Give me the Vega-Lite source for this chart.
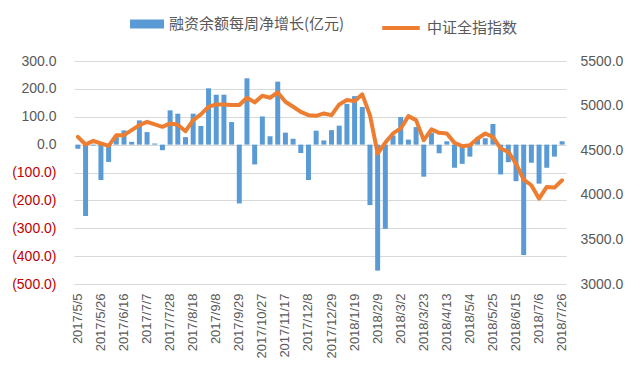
{
  "$schema": "https://vega.github.io/schema/vega-lite/v6.json",
  "autosize": "none",
  "width": 492,
  "height": 223,
  "padding": {"left": 74, "top": 61, "right": 74, "bottom": 101},
  "background": "white",
  "config": {"view": {"stroke": null}, "font": "Liberation Sans"},
  "data": {"values": [
    {"date": "2017/5/5", "flow": -15, "index": 4650},
    {"date": "2017/5/12", "flow": -256, "index": 4564},
    {"date": "2017/5/19", "flow": -3, "index": 4605},
    {"date": "2017/5/26", "flow": -127, "index": 4575},
    {"date": "2017/6/2", "flow": -62, "index": 4548},
    {"date": "2017/6/9", "flow": 27, "index": 4669},
    {"date": "2017/6/16", "flow": 51, "index": 4669},
    {"date": "2017/6/23", "flow": 10, "index": 4725},
    {"date": "2017/6/30", "flow": 87, "index": 4781},
    {"date": "2017/7/7", "flow": 45, "index": 4818},
    {"date": "2017/7/14", "flow": 4, "index": 4789},
    {"date": "2017/7/21", "flow": -20, "index": 4762},
    {"date": "2017/7/28", "flow": 123, "index": 4800},
    {"date": "2017/8/4", "flow": 111, "index": 4785},
    {"date": "2017/8/11", "flow": 27, "index": 4713},
    {"date": "2017/8/18", "flow": 111, "index": 4837},
    {"date": "2017/8/25", "flow": 67, "index": 4901},
    {"date": "2017/9/1", "flow": 202, "index": 4987},
    {"date": "2017/9/8", "flow": 179, "index": 5013},
    {"date": "2017/9/15", "flow": 179, "index": 5013},
    {"date": "2017/9/22", "flow": 81, "index": 5006},
    {"date": "2017/9/29", "flow": -211, "index": 5006},
    {"date": "2017/10/13", "flow": 238, "index": 5088},
    {"date": "2017/10/20", "flow": -71, "index": 5036},
    {"date": "2017/10/27", "flow": 101, "index": 5110},
    {"date": "2017/11/3", "flow": 30, "index": 5088},
    {"date": "2017/11/10", "flow": 226, "index": 5148},
    {"date": "2017/11/17", "flow": 43, "index": 5043},
    {"date": "2017/11/24", "flow": 21, "index": 4987},
    {"date": "2017/12/1", "flow": -30, "index": 4930},
    {"date": "2017/12/8", "flow": -127, "index": 4893},
    {"date": "2017/12/15", "flow": 50, "index": 4885},
    {"date": "2017/12/22", "flow": 15, "index": 4912},
    {"date": "2017/12/29", "flow": 52, "index": 4893},
    {"date": "2018/1/5", "flow": 68, "index": 5013},
    {"date": "2018/1/12", "flow": 146, "index": 5062},
    {"date": "2018/1/19", "flow": 174, "index": 5050},
    {"date": "2018/1/26", "flow": 135, "index": 5126},
    {"date": "2018/2/2", "flow": -217, "index": 4893},
    {"date": "2018/2/9", "flow": -452, "index": 4463},
    {"date": "2018/2/14", "flow": -302, "index": 4586},
    {"date": "2018/2/23", "flow": 33, "index": 4688},
    {"date": "2018/3/2", "flow": 99, "index": 4744},
    {"date": "2018/3/9", "flow": 18, "index": 4882},
    {"date": "2018/3/16", "flow": 63, "index": 4837},
    {"date": "2018/3/23", "flow": -115, "index": 4612},
    {"date": "2018/3/30", "flow": 43, "index": 4733},
    {"date": "2018/4/4", "flow": -31, "index": 4695},
    {"date": "2018/4/13", "flow": 12, "index": 4687},
    {"date": "2018/4/20", "flow": -83, "index": 4582},
    {"date": "2018/4/27", "flow": -69, "index": 4545},
    {"date": "2018/5/4", "flow": -43, "index": 4556},
    {"date": "2018/5/11", "flow": 26, "index": 4631},
    {"date": "2018/5/18", "flow": 23, "index": 4687},
    {"date": "2018/5/25", "flow": 74, "index": 4650},
    {"date": "2018/6/1", "flow": -107, "index": 4519},
    {"date": "2018/6/8", "flow": -63, "index": 4481},
    {"date": "2018/6/15", "flow": -131, "index": 4350},
    {"date": "2018/6/22", "flow": -396, "index": 4170},
    {"date": "2018/6/29", "flow": -65, "index": 4107},
    {"date": "2018/7/6", "flow": -140, "index": 3957},
    {"date": "2018/7/13", "flow": -83, "index": 4088},
    {"date": "2018/7/20", "flow": -43, "index": 4081},
    {"date": "2018/7/26", "flow": 12, "index": 4163}
  ]},
  "encoding": {
    "x": {
      "field": "date", "type": "ordinal", "sort": null,
      "scale": {"paddingInner": 0.35, "paddingOuter": 0.18},
      "axis": {
        "title": null, "domain": false, "ticks": false, "grid": false,
        "labelAngle": -90, "labelPadding": 9, "labelFontSize": 13, "labelColor": "#595959",
        "labelFont": "Liberation Sans",
        "values": ["2017/5/5","2017/5/26","2017/6/16","2017/7/7","2017/7/28","2017/8/18","2017/9/8","2017/9/29","2017/10/27","2017/11/17","2017/12/8","2017/12/29","2018/1/19","2018/2/9","2018/3/2","2018/3/23","2018/4/13","2018/5/4","2018/5/25","2018/6/15","2018/7/6","2018/7/26"]
      }
    }
  },
  "layer": [
    {
      "mark": {"type": "bar", "color": "#5B9BD5"},
      "encoding": {
        "y": {
          "field": "flow", "type": "quantitative",
          "scale": {"domain": [-500, 300], "nice": false, "zero": false},
          "axis": {
            "title": null, "domain": false, "ticks": false,
            "values": [-500, -400, -300, -200, -100, 0, 100, 200, 300],
            "gridColor": "#D9D9D9", "gridWidth": 1,
            "labelFontSize": 14, "labelPadding": 18, "labelFont": "Liberation Sans",
            "labelExpr": "datum.value < 0 ? '(' + format(-datum.value, '.1f') + ')' : format(datum.value, '.1f')",
            "labelColor": {"condition": {"test": "datum.value < 0", "value": "#C00000"}, "value": "#595959"}
          }
        },
        "color": {
          "datum": "融资余额每周净增长(亿元)",
          "scale": {"range": ["#5B9BD5"]},
          "legend": {
            "orient": "none", "legendX": 56, "legendY": -54, "title": null, "padding": 0,
            "symbolType": "M-1,-0.26H1V0.26H-1Z", "symbolSize": 1156, "symbolStrokeWidth": 0,
            "labelFont": "Noto Sans CJK SC", "labelFontSize": 15, "labelColor": "#595959", "labelOffset": 5, "labelLimit": 400
          }
        }
      }
    },
    {
      "mark": {"type": "line", "strokeWidth": 4, "strokeJoin": "round", "strokeCap": "round"},
      "encoding": {
        "y": {
          "field": "index", "type": "quantitative",
          "scale": {"domain": [3000, 5500], "nice": false, "zero": false},
          "axis": {
            "title": null, "domain": false, "ticks": false, "grid": false, "orient": "right",
            "values": [3000, 3500, 4000, 4500, 5000, 5500], "format": ".1f",
            "labelFontSize": 14, "labelPadding": 14, "labelColor": "#595959", "labelFont": "Liberation Sans"
          }
        },
        "stroke": {
          "datum": "中证全指指数",
          "scale": {"range": ["#ED7D31"]},
          "legend": {
            "orient": "none", "legendX": 306, "legendY": -54, "title": null, "padding": 0,
            "symbolType": "stroke", "symbolSize": 1400, "symbolStrokeWidth": 4,
            "labelFont": "Noto Sans CJK SC", "labelFontSize": 15, "labelColor": "#595959", "labelOffset": 5, "labelLimit": 400
          }
        }
      }
    }
  ],
  "resolve": {"scale": {"y": "independent"}}
}
